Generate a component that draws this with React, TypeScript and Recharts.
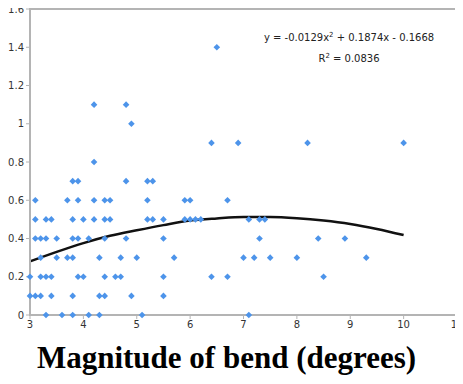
import React from 'react';
import { ComposedChart, Scatter, Line, XAxis, YAxis, ReferenceArea } from 'recharts';

// readings per bend magnitude (x) and value (y)
const bendX = [
  4.2, 4.8, 4.9, 4.2,
  3.8, 3.9, 4.8, 5.2, 5.3,
  3.1, 3.7, 3.9, 4.2, 4.4, 4.5, 5.2,
  3.1, 3.3, 3.4, 3.8, 4.0, 4.2, 4.4, 4.5, 5.2, 5.3,
  3.1, 3.2, 3.3, 3.5, 3.8, 3.9, 4.1, 4.4, 4.8,
  3.2, 3.5, 3.7, 3.8, 4.3, 4.7, 5.0,
  3.0, 3.2, 3.3, 3.4, 3.9, 4.0, 4.4, 4.6, 4.7,
  3.0, 3.1, 3.2, 3.4, 3.8, 4.3, 4.4, 4.9,
  3.3, 3.6, 3.8, 4.1, 4.3, 5.1,
  6.5, 6.4, 6.9, 8.2, 10.0,
  5.9, 6.0, 6.7,
  5.5, 5.9, 6.0, 6.1, 6.2, 7.1, 7.3, 7.4,
  5.5, 7.3, 8.4, 8.9,
  5.7, 7.0, 7.2, 7.5, 8.0, 9.3,
  5.5, 6.4, 6.7, 8.5,
  5.5, 7.1,
];
const bendY = [
  1.1, 1.1, 1.0, 0.8,
  0.7, 0.7, 0.7, 0.7, 0.7,
  0.6, 0.6, 0.6, 0.6, 0.6, 0.6, 0.6,
  0.5, 0.5, 0.5, 0.5, 0.5, 0.5, 0.5, 0.5, 0.5, 0.5,
  0.4, 0.4, 0.4, 0.4, 0.4, 0.4, 0.4, 0.4, 0.4,
  0.3, 0.3, 0.3, 0.3, 0.3, 0.3, 0.3,
  0.2, 0.2, 0.2, 0.2, 0.2, 0.2, 0.2, 0.2, 0.2,
  0.1, 0.1, 0.1, 0.1, 0.1, 0.1, 0.1, 0.1,
  0, 0, 0, 0, 0, 0,
  1.4, 0.9, 0.9, 0.9, 0.9,
  0.6, 0.6, 0.6,
  0.5, 0.5, 0.5, 0.5, 0.5, 0.5, 0.5, 0.5,
  0.4, 0.4, 0.4, 0.4,
  0.3, 0.3, 0.3, 0.3, 0.3, 0.3,
  0.2, 0.2, 0.2, 0.2,
  0.1, 0,
];

// trend line
const trendX = [3, 3.5, 4, 4.5, 5, 5.5, 6, 6.5, 7, 7.5, 8, 8.5, 9, 9.5, 10];
const trendY = [0.28, 0.33, 0.376, 0.414, 0.443, 0.47, 0.494, 0.505, 0.512, 0.512, 0.506, 0.494, 0.476, 0.45, 0.418];

const xTicks = [3, 4, 5, 6, 7, 8, 9, 10, 11];
const yTicks = [0, 0.2, 0.4, 0.6, 0.8, 1, 1.2, 1.4, 1.6];

const points = bendX.map((x, i) => ({ x, y: bendY[i] }));
const trend = trendX.map((x, i) => ({ x, y: trendY[i] }));

const Diamond = (props: any) => {
  const { cx, cy } = props;
  const r = 3.3;
  return <polygon points={`${cx},${cy - r} ${cx + r},${cy} ${cx},${cy + r} ${cx - r},${cy}`} fill="#4d94ea" />;
};

const axisColor = '#b4b4b4';
const tickStyle = { fontSize: 10, fill: '#333', fontFamily: 'DejaVu Sans' };

export default function App() {
  return (
    <div style={{ position: 'relative', width: 463, height: 384, margin: -8, background: '#fff' }}>
      <ComposedChart width={463} height={384} margin={{ top: 9, right: 6, left: 0, bottom: 0 }}>
        <XAxis
          type="number" dataKey="x" domain={[3, 11]} ticks={xTicks} interval={0}
          height={69} tick={tickStyle} tickSize={4}
          axisLine={{ stroke: axisColor, strokeWidth: 2 }} tickLine={{ stroke: axisColor }}
          label={{
            value: 'Magnitude of bend (degrees)', position: 'insideBottom', offset: 16, dx: -17,
            style: { fontSize: 31, fontWeight: 'bold', fontFamily: 'Liberation Serif', fill: '#000' },
          }}
        />
        <YAxis
          type="number" dataKey="y" domain={[0, 1.6]} ticks={yTicks} interval={0}
          width={30} tick={tickStyle} tickSize={4}
          axisLine={{ stroke: axisColor, strokeWidth: 2 }} tickLine={{ stroke: axisColor }}
        />
        <ReferenceArea
          x1={3} x2={11} y1={0} y2={1.6} fill="none" stroke={axisColor} strokeWidth={2}
          ifOverflow="visible"
        />
        <Scatter data={points} dataKey="y" shape={<Diamond />} isAnimationActive={false} />
        <Line
          data={trend} dataKey="y" type="monotone" stroke="#111" strokeWidth={2.5}
          dot={false} activeDot={false} isAnimationActive={false}
        />
      </ComposedChart>
      <div
        style={{
          position: 'absolute', left: 249, top: 26, width: 200, textAlign: 'center',
          fontFamily: 'DejaVu Sans', fontSize: 10, color: '#222', lineHeight: '19px',
        }}
      >
        <div>y = -0.0129x<sup style={{ fontSize: 7 }}>2</sup> + 0.1874x - 0.1668</div>
        <div>R<sup style={{ fontSize: 7 }}>2</sup> = 0.0836</div>
      </div>
    </div>
  );
}
